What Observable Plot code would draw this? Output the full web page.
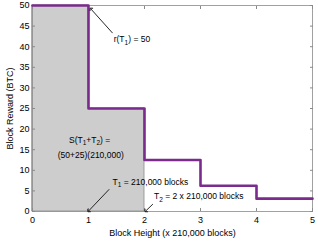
<!DOCTYPE html>
<html><head><meta charset="utf-8">
<script src="https://cdn.jsdelivr.net/npm/d3@7"></script>
<script src="https://cdn.jsdelivr.net/npm/@observablehq/plot@0.6"></script>
<style>body{margin:0;background:#fff;} svg{font-family:"Liberation Sans",Arial,sans-serif;}</style>
</head><body><div id="chart"></div>
<script>
const heights = [0, 1, 2, 3, 4, 5];
const rewards = [50, 25, 12.5, 6.25, 3.125, 3.125];
const shadedHeights = [0, 1, 2];
const shadedRewards = [50, 25, 25];
const xTicks = [0, 1, 2, 3, 4, 5];
const yTicks = [0, 5, 10, 15, 20, 25, 30, 35, 40, 45, 50];
const labelTexts = ["r(T_1) = 50", "S(T_1+T_2) =", "(50+25)(210,000)", "T_1 = 210,000 blocks", "T_2 = 2 x 210,000 blocks"];
const labelX = [1.45, 1.02, 1.04, 1.43, 2.17];
const labelY = [41.8, 17.3, 13.6, 7.1, 3.6];
const labelAnchor = ["start", "middle", "middle", "start", "start"];
const arrowX1 = [1.43, 1.37, 2.15];
const arrowY1 = [43.3, 5.4, 1.8];
const arrowX2 = [1.04, 1.0, 2.02];
const arrowY2 = [49.2, 0.1, 0.1];

const line = heights.map((h, i) => ({x: h, y: rewards[i]}));
const shade = shadedHeights.map((h, i) => ({x: h, y: shadedRewards[i]}));
const labels = labelTexts.map((t, i) => ({t, x: labelX[i], y: labelY[i], a: labelAnchor[i]}));
const arrows = arrowX1.map((x, i) => ({x1: x, y1: arrowY1[i], x2: arrowX2[i], y2: arrowY2[i]}));
const purple = "#7b2b8c";
const grey = "#8a8a8a";

const plot = Plot.plot({
  width: 318, height: 242,
  marginLeft: 32, marginRight: 6, marginTop: 5, marginBottom: 31,
  style: {fontFamily: '"Liberation Sans", Arial, sans-serif', fontSize: "8.5px", background: "white"},
  x: {domain: [0, 5], ticks: xTicks},
  y: {domain: [0, 50], ticks: yTicks},
  marks: [
    Plot.areaY(shade, {x: "x", y: "y", curve: "step-after", fill: "#cdcdcd", stroke: grey, strokeWidth: 0.8}),
    Plot.frame({stroke: grey, strokeWidth: 0.8}),
    Plot.axisX({anchor: "bottom", ticks: xTicks, tickFormat: d3.format("d"), tickSize: -3, tickPadding: 8, stroke: grey, label: "Block Height (x 210,000 blocks)", labelAnchor: "center", labelArrow: "none", labelOffset: 24, fontSize: 9}),
    Plot.axisX({anchor: "top", ticks: xTicks, tickSize: -3, tickFormat: () => "", stroke: grey, label: null}),
    Plot.axisY({anchor: "left", ticks: yTicks, tickFormat: d3.format("d"), tickSize: -3, tickPadding: 6, stroke: grey, label: "Block Reward (BTC)", labelAnchor: "center", labelArrow: "none", labelOffset: 26, fontSize: 9}),
    Plot.axisY({anchor: "right", ticks: yTicks, tickSize: -3, tickFormat: () => "", stroke: grey, label: null}),
    Plot.line(line, {x: "x", y: "y", curve: "step-after", stroke: purple, strokeWidth: 2.6}),
    Plot.text(labels.filter(d => d.a === "start"), {x: "x", y: "y", text: "t", textAnchor: "start", fontSize: 8.5, fill: "black"}),
    Plot.text(labels.filter(d => d.a === "middle"), {x: "x", y: "y", text: "t", textAnchor: "middle", fontSize: 8.5, fill: "black"}),
    Plot.link(arrows, {x1: "x1", y1: "y1", x2: "x2", y2: "y2", stroke: "#111", strokeWidth: 0.9, markerEnd: "arrow"})
  ]
});
// subscripts
plot.querySelectorAll("text").forEach(el => {
  const s = el.textContent;
  if (s.includes("_")) {
    const parts = s.split(/_(\d)/);
    el.textContent = "";
    parts.forEach((p, i) => {
      const ts = document.createElementNS("http://www.w3.org/2000/svg", "tspan");
      ts.textContent = p;
      if (i % 2 === 1) { ts.setAttribute("dy", "2.5"); ts.setAttribute("font-size", "6.5"); }
      else if (i > 0) { ts.setAttribute("dy", "-2.5"); }
      el.appendChild(ts);
    });
  }
});
document.getElementById("chart").appendChild(plot);
</script></body></html>
